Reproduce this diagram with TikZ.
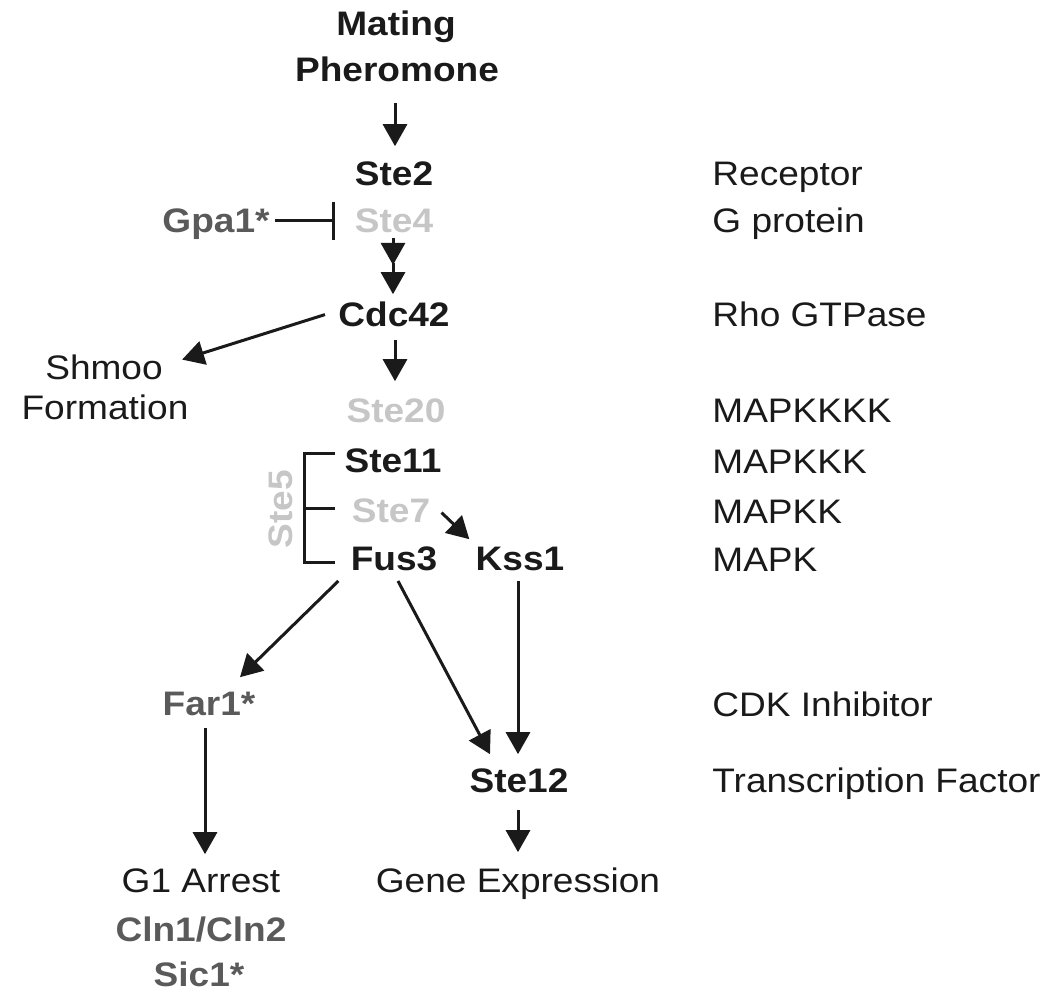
\documentclass[tikz,border=0pt]{standalone}
\usepackage{fontspec}
\setmainfont{Liberation Sans}[FakeStretch=1.09]
\usetikzlibrary{arrows.meta,calc}
\definecolor{ink}{HTML}{1A1A1A}
\definecolor{dgray}{HTML}{5A5A5A}
\definecolor{lgray}{HTML}{C6C6C6}
\begin{document}
\begin{tikzpicture}[x=0.5pt,y=-0.5pt,
  lbl/.style={inner sep=0pt, text height=12pt, text depth=0pt, anchor=south,
              font=\fontsize{17pt}{20pt}\selectfont, text=ink},
  prot/.style={lbl, font=\fontsize{17pt}{20pt}\selectfont\bfseries},
  role/.style={lbl, anchor=south west},
  arr/.style={line width=1.5pt, draw=ink, -{Triangle[length=11pt,width=12pt]}},
  inh/.style={line width=1.5pt, draw=ink, -{Bar[width=19pt,line width=1.5pt]}},
  brk/.style={line width=1.5pt, draw=ink},
]
\useasboundingbox (0,0) rectangle (1050,1004);

% central column
\node[prot] (mating) at (396,36) {Mating};
\node[prot] (pher) at (397,82) {Pheromone};
\node[prot] (ste2) at (394,186) {Ste2};
\node[prot,text=dgray] (gpa1) at (216,233) {Gpa1*};
\node[prot,text=lgray] (ste4) at (394,233) {Ste4};
\node[prot] (cdc42) at (394,327) {Cdc42};
\node[lbl] (shmoo) at (104,380) {Shmoo};
\node[lbl] (formation) at (105,420) {Formation};
\node[prot,text=lgray] (ste20) at (396,423) {Ste20};
\node[prot] (ste11) at (393,473) {Ste11};
\node[prot,text=lgray] (ste7) at (391,523) {Ste7};
\node[prot] (fus3) at (394,571) {Fus3};
\node[prot] (kss1) at (520,571) {Kss1};
\node[prot,text=lgray,rotate=90,anchor=center] (ste5) at (280,509) {Ste5};
\node[prot,text=dgray] (far1) at (209,716) {Far1*};
\node[prot] (ste12) at (519,793) {Ste12};
\node[lbl] (g1) at (201,893) {G1 Arrest};
\node[prot,text=dgray] (cln) at (201,942) {Cln1/Cln2};
\node[prot,text=dgray] (sic1) at (199,987) {Sic1*};
\node[lbl] (gene) at (518,893) {Gene Expression};

% right column
\node[role] (r1) at (712,186) {Receptor};
\node[role] (r2) at (712,233) {G protein};
\node[role] (r3) at (712,327) {Rho GTPase};
\node[role] (r4) at (712,423) {MAPKKKK};
\node[role] (r5) at (712,474) {MAPKKK};
\node[role] (r6) at (712,524) {MAPKK};
\node[role] (r7) at (712,572) {MAPK};
\node[role] (r8) at (712,717) {CDK Inhibitor};
\node[role] (r9) at (712,793) {Transcription Factor};

% connectors
\draw[arr] ($(pher.south)+(-2,21)$) -- ($(ste2.north)+(1,-15)$);
\draw[inh] ($(gpa1.east)+(5,0)$) -- ($(ste4.west)+(-19,0)$);
\draw[arr] ($(ste4.south)+(-1,5)$) -- ($(ste4.south)+(-1,32)$);
\draw[arr] ($(ste4.south)+(-1,30)$) -- ($(cdc42.north)+(-1,-8)$);
\draw[arr] ($(cdc42.west)+(-13,0)$) -- ($(shmoo.east)+(19,-8)$);
\draw[arr] ($(cdc42.south)+(1,13)$) -- ($(ste20.north)+(-1,-17)$);
\draw[arr] ($(ste7.east)+(11,2)$) -- ($(kss1.north west)+(-6,-7)$);
\draw[arr] ($(fus3.south west)+(-12,10)$) -- ($(far1.north)+(31,-14)$);
\draw[arr] ($(fus3.south)+(4,10)$) -- ($(ste12.north)+(-29,-14)$);
\draw[arr] ($(kss1.south)+(-2,10)$) -- ($(ste12.north)+(-1,-14)$);
\draw[arr] ($(far1.south)+(-4,12)$) -- ($(g1.north)+(4,-14)$);
\draw[arr] ($(ste12.south)+(-1,17)$) -- ($(gene.north)+(0,-16)$);

% Ste5 scaffold bracket
\draw[brk] (335,454) -| (304,563) -- (335,563);
\draw[brk] (304,509) -- (335,509);
\end{tikzpicture}
\end{document}
